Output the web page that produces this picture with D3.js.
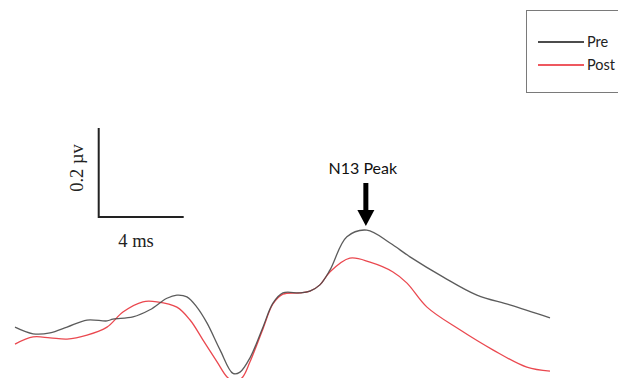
<!DOCTYPE html>
<html>
<head>
<meta charset="utf-8">
<script src="https://cdn.jsdelivr.net/npm/d3@7"></script>
<style>
  body { margin: 0; background: #fff; }
  svg { display: block; }
</style>
</head>
<body>
<script>
// time (ms) and amplitude (µV)
const preTime = [0, 0.85, 1.65, 2.45, 3.39, 4.33, 4.61, 5.55, 6.35, 7.15, 7.62, 8.09, 8.56, 9.04, 9.65, 10.26, 10.59, 11.06, 11.67, 12.14, 12.61, 13.41, 13.88, 14.35, 14.82, 15.62, 16.56, 17.65, 18.59, 20.14, 21.74, 23.29, 25.18]
const preAmp = [-0.061, -0.076, -0.074, -0.061, -0.045, -0.047, -0.043, -0.038, -0.022, 0.004, 0.011, 0.007, -0.016, -0.052, -0.112, -0.165, -0.162, -0.130, -0.061, -0.007, 0.016, 0.016, 0.020, 0.034, 0.067, 0.142, 0.157, 0.128, 0.097, 0.052, 0.011, -0.011, -0.040]

const postTime = [0, 0.85, 1.65, 2.45, 3.39, 4.33, 5.08, 6.02, 6.68, 7.62, 8.24, 8.85, 9.51, 9.98, 10.35, 10.72, 11.06, 11.67, 12.14, 12.61, 13.41, 13.88, 14.35, 14.82, 15.76, 16.71, 17.79, 18.45, 19.39, 20.94, 22.49, 24.09, 25.18]
const postAmp = [-0.099, -0.083, -0.085, -0.088, -0.079, -0.061, -0.027, -0.004, -0.004, -0.016, -0.045, -0.090, -0.139, -0.173, -0.184, -0.173, -0.139, -0.065, -0.009, 0.013, 0.016, 0.020, 0.034, 0.063, 0.094, 0.085, 0.063, 0.038, -0.016, -0.067, -0.112, -0.151, -0.160]

const seriesNames = ["Pre", "Post"]
const seriesColors = ["#4a4a4a", "#e8343c"]

const scaleBarMs = 4
const scaleBarUv = 0.2
const peakTime = 16.56

const W = 618, H = 378

const svg = d3.select("body")
    .append("svg")
    .attr("width", W)
    .attr("height", H)

const x = d3.scaleLinear().domain([0, 25.18]).range([15, 550])
const y = d3.scaleLinear().domain([0, 0.2]).range([300, 211])

const line = d3.line()
    .x(d => x(d[0]))
    .y(d => y(d[1]))
    .curve(d3.curveCatmullRom.alpha(0.5))

const traces = [
    d3.zip(preTime, preAmp),
    d3.zip(postTime, postAmp)
]

// post first so pre sits on top
svg.selectAll("path.trace")
    .data([1, 0])
    .enter()
    .append("path")
    .attr("class", "trace")
    .attr("d", i => line(traces[i]))
    .attr("fill", "none")
    .attr("stroke", i => seriesColors[i])
    .attr("stroke-width", 1.3)
    .attr("opacity", 0.9)

// scale bar
const bx = x(3.94), by = 217
svg.append("path")
    .attr("d", `M${bx},${by - (y(0) - y(scaleBarUv))}V${by}H${bx + x(scaleBarMs) - x(0)}`)
    .attr("fill", "none")
    .attr("stroke", "#222")
    .attr("stroke-width", 2)

svg.append("text")
    .attr("x", 136)
    .attr("y", 247)
    .attr("text-anchor", "middle")
    .attr("font-family", "Liberation Serif, serif")
    .attr("font-size", 18.5)
    .attr("fill", "#222")
    .text(scaleBarMs + " ms")

svg.append("text")
    .attr("transform", `translate(83,168) rotate(-90)`)
    .attr("text-anchor", "middle")
    .attr("font-family", "Liberation Serif, serif")
    .attr("font-size", 18.5)
    .attr("fill", "#222")
    .text(scaleBarUv + " µv")

// N13 peak label and arrow
const px = x(peakTime) - 1
svg.append("text")
    .attr("x", px - 3)
    .attr("y", 174)
    .attr("text-anchor", "middle")
    .attr("font-family", "Lato, sans-serif")
    .attr("font-size", 16)
    .attr("fill", "#111")
    .text("N13 Peak")

svg.append("rect")
    .attr("x", px - 2.5)
    .attr("y", 183)
    .attr("width", 5)
    .attr("height", 28)
    .attr("fill", "#000")

svg.append("path")
    .attr("d", `M${px - 8.5},210L${px + 8.5},210L${px},226Z`)
    .attr("fill", "#000")

// legend
const legend = svg.append("g")
legend.append("rect")
    .attr("x", 526.5)
    .attr("y", 10.5)
    .attr("width", 100)
    .attr("height", 82)
    .attr("fill", "#fff")
    .attr("stroke", "#7a7a7a")
    .attr("stroke-width", 1)

seriesNames.forEach((name, i) => {
    const ly = 42 + i * 23
    legend.append("line")
        .attr("x1", 538).attr("x2", 584)
        .attr("y1", ly).attr("y2", ly)
        .attr("stroke", i == 0 ? "#111" : "#e8202a")
        .attr("stroke-width", 1.5)
    legend.append("text")
        .attr("x", 587)
        .attr("y", ly + 5)
        .attr("font-family", "Lato, sans-serif")
        .attr("font-size", 14.5)
        .attr("fill", "#222")
        .text(name)
})
</script>
</body>
</html>
